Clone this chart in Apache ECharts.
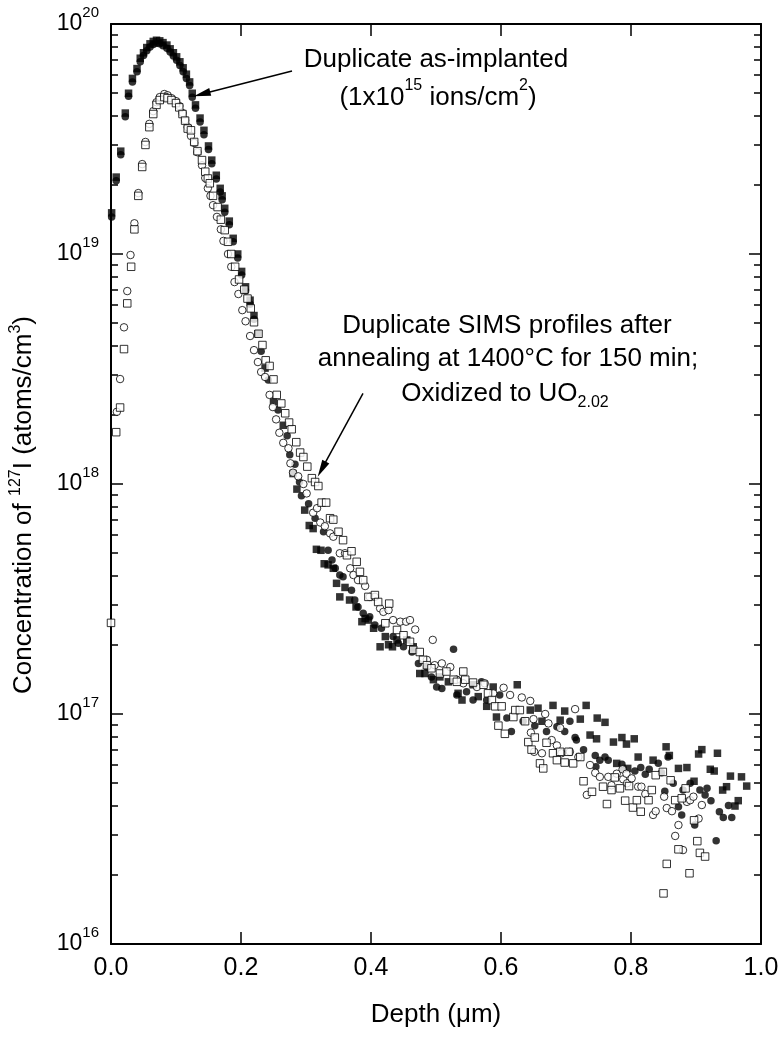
<!DOCTYPE html>
<html>
<head>
<meta charset="utf-8">
<script src="https://cdn.jsdelivr.net/npm/echarts@6/dist/echarts.min.js"></script>
<style>
html,body{margin:0;padding:0;background:#fff;}
#chart{width:782px;height:1037px;}
</style>
</head>
<body>
<div id="chart"></div>
<script>
// ---- Data: [depth (um), concentration (atoms/cm^3)] ----
const asImplantedSquares = [
[0.001,1.51e19],[0.008,2.16e19],[0.015,2.80e19],[0.022,4.1e19],[0.027,5.0e19],[0.033,5.8e19],[0.040,6.4e19],[0.045,7.1e19],[0.050,7.5e19],[0.055,7.9e19],
[0.060,8.2e19],[0.065,8.4e19],[0.070,8.5e19],[0.075,8.45e19],[0.080,8.3e19],[0.086,8.1e19],[0.091,7.8e19],[0.096,7.5e19],[0.101,7.2e19],[0.106,6.85e19],
[0.111,6.45e19],[0.116,6.05e19],[0.121,5.6e19],[0.125,5.0e19],[0.130,4.45e19],[0.137,3.9e19],[0.143,3.45e19],[0.150,2.95e19],[0.155,2.56e19],[0.162,2.2e19],
[0.168,1.93e19],[0.171,1.79e19],[0.175,1.58e19],[0.182,1.39e19],[0.188,1.17e19],[0.195,1.0e19],[0.201,8.4e18],[0.207,7.2e18],[0.214,6.3e18],[0.220,5.4e18],
[0.226,4.5e18],[0.237,3.19e18],[0.250,2.28e18],[0.265,1.8e18],[0.280,1.11e18],[0.286,9.5e17],[0.298,7.7e17],[0.305,6.6e17],
[0.311,6.4e17],[0.316,5.2e17],[0.323,5.15e17],[0.328,4.5e17],[0.334,4.45e17],[0.342,4.3e17],[0.347,3.7e17],[0.352,3.23e17],[0.360,3.55e17],[0.367,3.13e17],
[0.377,2.92e17],[0.386,2.52e17],[0.391,2.6e17],[0.396,2.56e17],[0.404,2.36e17],[0.414,1.96e17],[0.422,2.17e17],[0.427,2.0e17],[0.433,1.96e17],[0.440,2.1e17],
[0.455,2.1e17],[0.465,1.96e17],[0.475,1.5e17],[0.483,1.5e17],[0.496,1.41e17],[0.506,1.45e17],[0.519,1.38e17],[0.534,1.23e17],[0.540,1.15e17],[0.557,1.34e17],
[0.565,1.19e17],[0.578,1.08e17],[0.588,1.31e17],[0.593,9.7e16],
[0.625,1.34e17],[0.645,1.04e17],[0.657,1.06e17],[0.663,9.3e16],[0.680,1.09e17],[0.691,9.4e16],[0.698,1.03e17],[0.722,9.5e16],[0.731,1.09e17],[0.737,8.1e16],
[0.747,7.8e16],[0.748,9.6e16],[0.760,9.2e16],[0.773,7.55e16],[0.778,6.1e16],[0.786,7.9e16],[0.793,7.4e16],[0.795,5.8e16],
[0.805,7.8e16],[0.811,6.5e16],[0.834,6.3e16],[0.854,7.2e16],[0.859,6.6e16],[0.873,5.8e16],[0.886,5.85e16],[0.897,5.1e16],[0.904,6.7e16],[0.909,7.0e16],
[0.922,5.75e16],[0.928,5.65e16],[0.933,6.75e16],[0.941,4.67e16],[0.947,4.83e16],[0.953,5.37e16],[0.960,3.98e16],[0.965,4.2e16],[0.970,5.33e16],[0.978,4.86e16]
];
const asImplantedCircles = [
[0.001,1.45e19],[0.008,2.08e19],[0.015,2.70e19],[0.022,3.95e19],[0.027,4.85e19],[0.033,5.6e19],[0.040,6.2e19],[0.045,6.85e19],[0.050,7.3e19],[0.055,7.65e19],
[0.060,7.95e19],[0.065,8.15e19],[0.070,8.25e19],[0.075,8.2e19],[0.080,8.05e19],[0.086,7.85e19],[0.091,7.55e19],[0.096,7.25e19],[0.101,6.95e19],[0.106,6.6e19],
[0.111,6.2e19],[0.116,5.8e19],[0.121,5.4e19],[0.125,4.8e19],[0.130,4.3e19],[0.137,3.75e19],[0.143,3.3e19],[0.150,2.85e19],[0.155,2.47e19],[0.162,2.12e19],
[0.168,1.86e19],[0.171,1.72e19],[0.175,1.52e19],[0.182,1.34e19],[0.188,1.13e19],[0.195,9.6e18],[0.201,8.1e18],[0.207,6.9e18],[0.214,6.05e18],[0.220,5.2e18],
[0.231,3.78e18],[0.242,2.83e18],[0.257,2.1e18],[0.271,1.62e18],[0.275,1.34e18],[0.283,1.22e18],[0.290,1.02e18],[0.293,8.9e17],[0.304,8.2e17],
[0.314,7.1e17],[0.327,6.2e17],[0.334,5.15e17],[0.340,4.67e17],[0.345,4.3e17],[0.352,4.02e17],[0.357,3.95e17],[0.370,3.45e17],[0.375,3.13e17],[0.380,2.92e17],
[0.388,2.74e17],[0.398,2.65e17],[0.406,2.44e17],[0.416,2.36e17],[0.434,2.17e17],[0.442,2.03e17],[0.450,1.96e17],[0.463,1.86e17],[0.473,1.66e17],[0.486,1.6e17],
[0.493,1.45e17],[0.501,1.31e17],[0.509,1.29e17],[0.527,1.91e17],[0.532,1.21e17],[0.547,1.25e17],[0.557,1.15e17],[0.570,1.38e17],[0.578,1.15e17],
[0.598,1.21e17],[0.609,9.6e16],[0.616,8.4e16],[0.634,9.3e16],[0.652,8.9e16],[0.670,8.4e16],[0.686,8.8e16],[0.698,8.4e16],[0.706,9.3e16],[0.714,7.9e16],
[0.716,7.7e16],[0.727,7.0e16],[0.745,6.6e16],[0.746,5.9e16],[0.752,6.3e16],[0.760,6.5e16],[0.765,6.3e16],[0.786,6.05e16],[0.788,5.8e16],
[0.806,5.65e16],[0.815,5.85e16],[0.822,5.47e16],[0.828,5.75e16],[0.842,6.1e16],[0.847,5.55e16],[0.852,4.62e16],[0.857,6.5e16],[0.865,5.0e16],[0.873,3.95e16],
[0.878,3.64e16],[0.880,4.67e16],[0.891,5.0e16],[0.898,3.29e16],[0.906,4.67e16],[0.914,4.45e16],[0.917,4.75e16],[0.923,4.2e16],[0.931,2.81e16],[0.936,3.76e16],
[0.942,3.55e16],[0.950,4.0e16],[0.955,3.55e16]
];
const annealedCircles = [
[0.009,2.06e18],[0.014,2.86e18],[0.020,4.8e18],[0.025,6.9e18],[0.030,9.9e18],[0.036,1.36e19],[0.042,1.84e19],[0.048,2.46e19],[0.053,3.07e19],[0.059,3.68e19],
[0.065,4.18e19],[0.070,4.57e19],[0.075,4.81e19],[0.082,4.96e19],[0.087,4.9e19],[0.093,4.76e19],[0.100,4.62e19],[0.105,4.4e19],[0.110,4.1e19],[0.114,3.82e19],
[0.118,3.56e19],[0.123,3.26e19],[0.128,3.04e19],[0.133,2.77e19],[0.140,2.43e19],[0.145,2.14e19],[0.149,1.93e19],[0.153,1.79e19],[0.157,1.63e19],[0.163,1.45e19],
[0.169,1.28e19],[0.173,1.14e19],[0.180,1.0e19],[0.185,8.8e18],[0.190,7.55e18],[0.196,6.7e18],[0.202,5.7e18],[0.207,5.1e18],[0.214,4.4e18],[0.220,3.82e18],
[0.226,3.39e18],[0.231,3.07e18],[0.237,2.92e18],[0.244,2.44e18],[0.249,2.16e18],[0.254,1.91e18],[0.259,1.67e18],[0.265,1.51e18],[0.273,1.43e18],[0.276,1.23e18],
[0.280,1.12e18],[0.288,1.08e18],[0.296,1.0e18],[0.301,9.1e17],[0.311,7.5e17],[0.317,7.85e17],[0.322,6.8e17],[0.329,6.55e17],[0.337,6.1e17],[0.342,5.9e17],
[0.352,5.0e17],[0.360,5.0e17],[0.368,4.3e17],[0.373,4.02e17],[0.380,3.82e17],[0.391,3.6e17],[0.398,3.23e17],[0.406,3.23e17],[0.414,2.88e17],[0.419,2.78e17],
[0.427,2.83e17],[0.434,2.56e17],[0.445,2.52e17],[0.454,2.52e17],[0.460,2.56e17],[0.468,2.33e17],[0.486,1.72e17],[0.495,2.1e17],[0.498,1.63e17],[0.509,1.66e17],
[0.522,1.6e17],[0.532,1.41e17],[0.542,1.36e17],[0.563,1.31e17],[0.575,1.36e17],[0.588,1.23e17],[0.604,1.3e17],[0.614,1.21e17],[0.632,1.18e17],[0.645,1.14e17],
[0.646,8.3e16],[0.650,9.5e16],[0.651,6.85e16],[0.663,6.75e16],[0.668,1.0e17],[0.673,9.1e16],[0.678,7.7e16],[0.686,7.3e16],[0.691,8.7e16],[0.693,6.75e16],
[0.706,6.85e16],[0.714,1.05e17],[0.719,6.5e16],[0.732,4.45e16],[0.737,6.0e16],[0.745,5.55e16],[0.752,5.33e16],[0.765,5.33e16],[0.770,4.9e16],[0.778,5.5e16],
[0.787,5.75e16],[0.788,5.2e16],[0.793,5.5e16],[0.794,5.0e16],[0.801,5.25e16],[0.811,4.83e16],[0.816,4.83e16],[0.822,4.49e16],[0.834,3.64e16],[0.838,3.78e16],
[0.851,4.37e16],[0.855,3.9e16],[0.863,3.78e16],[0.868,2.95e16],[0.873,3.29e16],[0.880,2.56e16],[0.886,4.15e16],[0.891,4.22e16],[0.896,4.37e16],[0.904,3.51e16],
[0.909,4.02e16]
];
const annealedSquares = [
[0.000,2.49e17],[0.008,1.68e18],[0.014,2.15e18],[0.020,3.86e18],[0.025,6.1e18],[0.031,8.8e18],[0.036,1.28e19],[0.042,1.79e19],[0.048,2.39e19],[0.053,2.98e19],
[0.059,3.56e19],[0.065,4.06e19],[0.070,4.45e19],[0.075,4.67e19],[0.082,4.81e19],[0.087,4.76e19],[0.093,4.67e19],[0.100,4.53e19],[0.105,4.34e19],[0.110,4.06e19],
[0.114,3.8e19],[0.118,3.51e19],[0.123,3.45e19],[0.128,3.07e19],[0.133,2.8e19],[0.140,2.56e19],[0.145,2.28e19],[0.149,2.13e19],[0.152,2.03e19],[0.157,1.79e19],
[0.164,1.6e19],[0.169,1.41e19],[0.175,1.27e19],[0.180,1.13e19],[0.185,1.0e19],[0.191,8.8e18],[0.197,7.75e18],[0.205,7.0e18],[0.210,6.4e18],[0.215,5.8e18],
[0.220,5.05e18],[0.227,4.5e18],[0.233,4.02e18],[0.238,3.45e18],[0.244,3.26e18],[0.250,2.85e18],[0.255,2.44e18],[0.262,2.24e18],[0.268,2.03e18],[0.274,1.85e18],
[0.278,1.73e18],[0.285,1.52e18],[0.291,1.37e18],[0.296,1.31e18],[0.302,1.19e18],[0.309,1.06e18],[0.314,1.02e18],[0.319,9.8e17],[0.324,8.3e17],[0.331,8.3e17],
[0.337,7.1e17],[0.342,7.0e17],[0.350,6.2e17],[0.357,5.7e17],[0.363,4.9e17],[0.370,5.1e17],[0.378,4.59e17],[0.383,4.15e17],[0.388,3.82e17],[0.396,3.23e17],
[0.406,3.29e17],[0.411,3.07e17],[0.422,2.48e17],[0.428,3.02e17],[0.440,2.32e17],[0.450,2.2e17],[0.460,2.06e17],[0.465,1.9e17],[0.475,1.86e17],[0.480,1.72e17],
[0.486,1.63e17],[0.493,1.58e17],[0.506,1.5e17],[0.516,1.53e17],[0.527,1.41e17],[0.532,1.38e17],[0.542,1.53e17],[0.545,1.41e17],[0.557,1.37e17],[0.573,1.34e17],
[0.580,1.23e17],[0.586,1.15e17],[0.591,1.08e17],[0.596,8.9e16],[0.601,1.08e17],[0.606,8.2e16],[0.619,9.7e16],[0.622,1.04e17],[0.629,1.04e17],[0.637,9.3e16],
[0.642,7.55e16],[0.647,7.0e16],[0.652,7.9e16],[0.660,6.1e16],[0.665,5.8e16],[0.670,7.5e16],[0.680,6.75e16],[0.686,6.3e16],[0.691,6.85e16],[0.698,6.15e16],
[0.704,6.85e16],[0.711,6.1e16],[0.722,6.5e16],[0.727,5.1e16],[0.740,4.59e16],[0.757,4.83e16],[0.763,4.06e16],[0.770,4.67e16],[0.775,5.3e16],[0.783,4.75e16],
[0.791,4.2e16],[0.797,4.86e16],[0.803,3.92e16],[0.809,4.22e16],[0.815,3.76e16],[0.827,4.22e16],[0.832,4.67e16],[0.838,5.42e16],[0.849,5.6e16],[0.850,1.66e16],
[0.855,2.23e16],[0.861,5.15e16],[0.868,4.22e16],[0.873,2.58e16],[0.878,4.3e16],[0.884,4.75e16],[0.890,2.03e16],[0.897,3.45e16],[0.902,2.8e16],[0.906,2.49e16],
[0.914,2.4e16]
];
// ---- Axis ticks ----
const xTicks = [0.0, 0.2, 0.4, 0.6, 0.8, 1.0];
const yMajorTicks = [1e16, 1e17, 1e18, 1e19, 1e20];
const yMinorMantissas = [2, 3, 4, 5, 6, 7, 8, 9];
const yMinorTicks = [];
yMajorTicks.slice(0, 4).forEach(d => yMinorMantissas.forEach(m => yMinorTicks.push(m * d)));
// ---- Annotation arrows [start, tip] in data coordinates ----
const arrowImplanted = [[0.2785, 6.25e19], [0.140, 4.96e19]];
const arrowAnnealed = [[0.3877, 2.48e18], [0.3242, 1.16e18]];

const FONT = '"Liberation Sans", Arial, Helvetica, sans-serif';
const chart = echarts.init(document.getElementById('chart'), null, {renderer: 'canvas'});

function scatter(name, data, symbol, filled, z) {
  return {
    type: 'scatter', name: name, data: data, symbol: symbol, symbolSize: 7.5, z: z,
    silent: true, emphasis: {disabled: true},
    itemStyle: filled ? {color: '#000', borderWidth: 0} : {color: '#fff', borderColor: '#000', borderWidth: 1}
  };
}
const axisLineStyle = {color: '#000', width: 2};
const tickStyle = {color: '#000', width: 1.5};
function yAx(position, major, showLine, withLabels) {
  return {
    type: 'log', logBase: 10, min: 1e16, max: 1e20, position: position,
    axisLine: {show: showLine, onZero: false, lineStyle: axisLineStyle},
    axisTick: {show: true, inside: true, length: major ? 12 : 7, lineStyle: tickStyle,
               customValues: major ? yMajorTicks : yMinorTicks},
    axisLabel: withLabels ? {
      show: true, customValues: yMajorTicks, margin: 12, color: '#000',
      formatter: v => '{b|10}{s|' + Math.round(Math.log10(v)) + '}',
      rich: {
        b: {fontSize: 23, fontFamily: FONT, color: '#000', verticalAlign: 'middle'},
        s: {fontSize: 15, fontFamily: FONT, color: '#000', verticalAlign: 'middle', padding: [0, 0, 22, 0]}
      }
    } : {show: false},
    splitLine: {show: false}, minorTick: {show: false}
  };
}
const arrowLine = {
  silent: true, symbol: ['none', 'triangle'], symbolSize: [8, 17],
  lineStyle: {color: '#000', width: 1.5, type: 'solid'}, label: {show: false},
  emphasis: {disabled: true},
  data: [
    [{coord: arrowImplanted[0]}, {coord: arrowImplanted[1]}],
    [{coord: arrowAnnealed[0]}, {coord: arrowAnnealed[1]}]
  ]
};
const s1 = scatter('As-implanted (1)', asImplantedSquares, 'rect', true, 2);
s1.markLine = arrowLine;

const textBase = {fill: '#000', fontSize: 26, fontFamily: FONT, align: 'center', verticalAlign: 'middle'};
const supRich = {sup: {fontSize: 16, fontFamily: FONT, fill: '#000', color: '#000', verticalAlign: 'middle', padding: [0, 0, 24, 0]}};
const subRich = {sub: {fontSize: 16, fontFamily: FONT, fill: '#000', color: '#000', verticalAlign: 'middle', padding: [18, 0, 0, 0]}};

const option = {
  animation: false,
  backgroundColor: '#fff',
  grid: {left: 111, right: 21, top: 24, bottom: 93, containLabel: false},
  xAxis: [
    {
      type: 'value', min: 0, max: 1, interval: 0.2, position: 'bottom',
      name: 'Depth (μm)', nameLocation: 'middle', nameGap: 58,
      nameTextStyle: {fontSize: 26, color: '#000', fontFamily: FONT},
      axisLine: {show: true, onZero: false, lineStyle: axisLineStyle},
      axisTick: {show: true, inside: true, length: 12, lineStyle: tickStyle},
      axisLabel: {show: true, fontSize: 25, color: '#000', margin: 12, fontFamily: FONT,
                  formatter: v => xTicks.indexOf(v) >= 0 ? v.toFixed(1) : ''},
      splitLine: {show: false}
    },
    {
      type: 'value', min: 0, max: 1, interval: 0.2, position: 'top',
      axisLine: {show: true, onZero: false, lineStyle: axisLineStyle},
      axisTick: {show: true, inside: true, length: 12, lineStyle: tickStyle},
      axisLabel: {show: false}, splitLine: {show: false}
    }
  ],
  yAxis: [
    yAx('left', true, true, true),
    yAx('left', false, false, false),
    yAx('right', true, true, false),
    yAx('right', false, false, false)
  ],
  series: [
    s1,
    scatter('As-implanted (2)', asImplantedCircles, 'circle', true, 3),
    scatter('Annealed (1)', annealedCircles, 'circle', false, 4),
    scatter('Annealed (2)', annealedSquares, 'rect', false, 5)
  ],
  graphic: [
    {type: 'text', x: 24, y: 505, rotation: Math.PI / 2, silent: true,
     style: Object.assign({}, textBase, {text: 'Concentration of {sup|127}I (atoms/cm{sup|3})',
       rich: {sup: {fontSize: 16, fontFamily: FONT, fill: '#000', verticalAlign: 'middle', padding: [0, 0, 16, 0]}}})},
    {type: 'text', x: 436, y: 60, silent: true, style: Object.assign({}, textBase, {text: 'Duplicate as-implanted'})},
    {type: 'text', x: 438, y: 98, silent: true, style: Object.assign({}, textBase, {text: '(1x10{sup|15} ions/cm{sup|2})', rich: supRich})},
    {type: 'text', x: 507, y: 326, silent: true, style: Object.assign({}, textBase, {text: 'Duplicate SIMS profiles after'})},
    {type: 'text', x: 508, y: 359, silent: true, style: Object.assign({}, textBase, {text: 'annealing at 1400°C for 150 min;'})},
    {type: 'text', x: 505, y: 394, silent: true, style: Object.assign({}, textBase, {text: 'Oxidized to UO{sub|2.02}', rich: subRich})}
  ]
};
chart.setOption(option);
</script>
</body>
</html>
